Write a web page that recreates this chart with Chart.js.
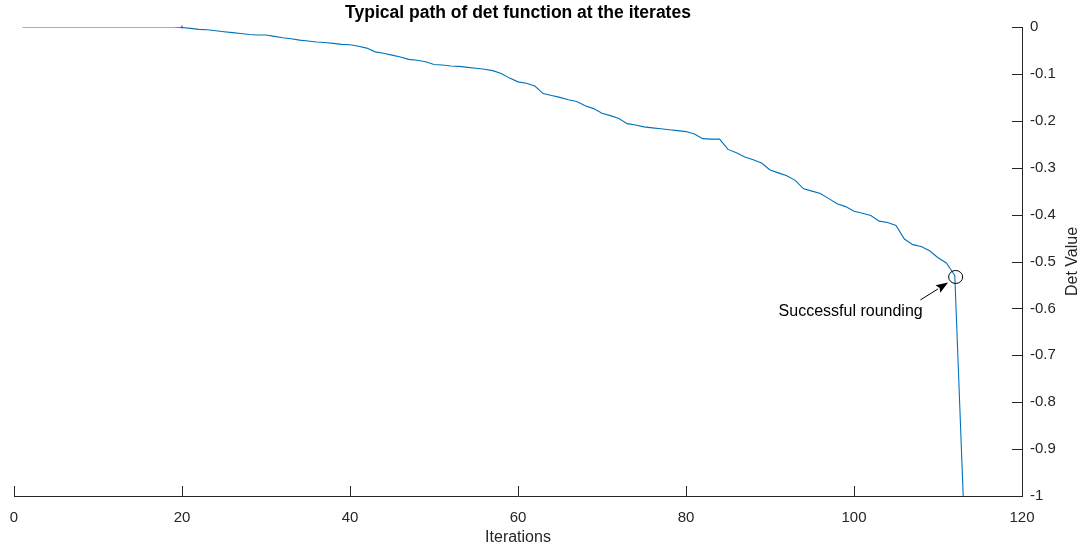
<!DOCTYPE html>
<html>
<head>
<meta charset="utf-8">
<title>Typical path of det function</title>
<script src="https://cdn.jsdelivr.net/npm/chart.js@4.4.1/dist/chart.umd.min.js"></script>
<style>
  html, body { margin: 0; padding: 0; background: #fff; }
  #wrap { width: 1085px; height: 549px; }
</style>
</head>
<body>
<div id="wrap"><canvas id="detChart"></canvas></div>
<script>
// iteration index and det value at each iterate
const iterations = [
  1, 2, 3, 4, 5, 6, 7, 8, 9, 10, 11, 12, 13, 14, 15, 16, 17, 18, 19, 20,
  21, 22, 23, 24, 25, 26, 27, 28, 29, 30, 31, 32, 33, 34, 35, 36, 37, 38, 39, 40,
  41, 42, 43, 44, 45, 46, 47, 48, 49, 50, 51, 52, 53, 54, 55, 56, 57, 58, 59, 60,
  61, 62, 63, 64, 65, 66, 67, 68, 69, 70, 71, 72, 73, 74, 75, 76, 77, 78, 79, 80,
  81, 82, 83, 84, 85, 86, 87, 88, 89, 90, 91, 92, 93, 94, 95, 96, 97, 98, 99, 100,
  101, 102, 103, 104, 105, 106, 107, 108, 109, 110, 111, 112, 113
];
const detValues = [
  0, 0, 0, 0, 0, 0, 0, 0, 0, 0, 0, 0, 0, 0, 0, 0, 0, 0, 0, -0.001,
  -0.003, -0.005, -0.006, -0.008, -0.010, -0.012, -0.014, -0.016, -0.017, -0.017,
  -0.020, -0.023, -0.025, -0.028, -0.030, -0.032, -0.033, -0.035, -0.037, -0.038,
  -0.041, -0.045, -0.053, -0.056, -0.060, -0.064, -0.069, -0.071, -0.074, -0.080,
  -0.081, -0.083, -0.084, -0.086, -0.088, -0.090, -0.093, -0.099, -0.109, -0.117,
  -0.120, -0.126, -0.142, -0.146, -0.150, -0.155, -0.159, -0.168, -0.174, -0.184,
  -0.189, -0.195, -0.206, -0.209, -0.213, -0.215, -0.217, -0.219, -0.221, -0.223,
  -0.228, -0.238, -0.239, -0.239, -0.261, -0.268, -0.277, -0.283, -0.290, -0.305,
  -0.311, -0.317, -0.327, -0.345, -0.350, -0.355, -0.366, -0.377, -0.383, -0.393,
  -0.397, -0.402, -0.414, -0.417, -0.423, -0.452, -0.464, -0.468, -0.477, -0.492,
  -0.503, -0.530, -1
];
// tiny stray mark just above the line
const markX = [20];
const markY = [0];

const xTicks = [0, 20, 40, 60, 80, 100, 120];
const yTicks = [0, -0.1, -0.2, -0.3, -0.4, -0.5, -0.6, -0.7, -0.8, -0.9, -1];

const chartTitle = 'Typical path of det function at the iterates';
const xTitle = 'Iterations';
const yTitle = 'Det Value';
const noteText = 'Successful rounding';
// annotation anchors, in data units
const circled = { x: 112.1, y: -0.533 };
const arrowTail = { x: 107.9, y: -0.582 };
const arrowHead = { x: 111.2, y: -0.545 };
const noteAt = { x: 99.6, y: -0.606 };

const FONT = "'Liberation Sans', Arial, Helvetica, sans-serif";
const axisColor = '#262626';
const lineColor = '#0072BD';

const pts = iterations.map((it, i) => ({ x: it, y: detValues[i] }));
const markPts = markX.map((v, i) => ({ x: v, y: markY[i] }));

// MATLAB-style ticks pointing into the plot
const inwardTicks = {
  id: 'inwardTicks',
  afterDraw(chart) {
    const { ctx, chartArea, scales: { x, y } } = chart;
    ctx.save();
    ctx.strokeStyle = axisColor;
    ctx.lineWidth = 1;
    ctx.beginPath();
    xTicks.forEach(v => {
      const px = Math.round(x.getPixelForValue(v)) + 0.5;
      ctx.moveTo(px, chartArea.bottom);
      ctx.lineTo(px, chartArea.bottom - 10);
    });
    yTicks.forEach(v => {
      const py = Math.round(y.getPixelForValue(v)) + 0.5;
      ctx.moveTo(chartArea.right, py);
      ctx.lineTo(chartArea.right - 10, py);
    });
    ctx.stroke();
    ctx.restore();
  }
};

// title, y-axis label (reads upward) and circle/arrow/text annotation
const notes = {
  id: 'notes',
  afterDraw(chart) {
    const { ctx, chartArea, scales: { x, y } } = chart;
    ctx.save();
    ctx.fillStyle = '#000';
    ctx.font = 'bold 17.5px ' + FONT;
    ctx.textAlign = 'center';
    ctx.textBaseline = 'middle';
    ctx.fillText(chartTitle, (chartArea.left + chartArea.right) / 2, 13);

    ctx.save();
    ctx.fillStyle = axisColor;
    ctx.font = '16px ' + FONT;
    ctx.translate(1073, (chartArea.top + chartArea.bottom) / 2);
    ctx.rotate(-Math.PI / 2);
    ctx.fillText(yTitle, 0, 0);
    ctx.restore();

    const cx = x.getPixelForValue(circled.x), cy = y.getPixelForValue(circled.y);
    ctx.strokeStyle = '#000';
    ctx.lineWidth = 1;
    ctx.beginPath();
    ctx.ellipse(cx, cy, 7, 6.5, 0, 0, Math.PI * 2);
    ctx.stroke();

    const tx = x.getPixelForValue(arrowTail.x), ty = y.getPixelForValue(arrowTail.y);
    const hx = x.getPixelForValue(arrowHead.x), hy = y.getPixelForValue(arrowHead.y);
    const ang = Math.atan2(hy - ty, hx - tx);
    const len = 12, half = 4.5;
    const bx = hx - len * Math.cos(ang), by = hy - len * Math.sin(ang);
    ctx.beginPath();
    ctx.moveTo(tx, ty);
    ctx.lineTo(bx, by);
    ctx.stroke();
    ctx.fillStyle = '#000';
    ctx.beginPath();
    ctx.moveTo(hx, hy);
    ctx.lineTo(bx + half * Math.sin(ang), by - half * Math.cos(ang));
    ctx.lineTo(bx + 2 * Math.cos(ang), by + 2 * Math.sin(ang));
    ctx.lineTo(bx - half * Math.sin(ang), by + half * Math.cos(ang));
    ctx.closePath();
    ctx.fill();

    ctx.fillStyle = '#000';
    ctx.font = '16px ' + FONT;
    ctx.fillText(noteText, x.getPixelForValue(noteAt.x), y.getPixelForValue(noteAt.y));
    ctx.restore();
  }
};

new Chart(document.getElementById('detChart'), {
  type: 'scatter',
  data: {
    datasets: [{
      label: 'det',
      data: pts,
      showLine: true,
      borderColor: lineColor,
      backgroundColor: lineColor,
      borderWidth: 1.1,
      pointRadius: 0,
      tension: 0
    }, {
      label: 'mark',
      data: markPts,
      pointStyle: 'line',
      rotation: 90,
      pointRadius: 1.5,
      borderColor: '#1a1aff',
      borderWidth: 1,
      clip: false
    }]
  },
  options: {
    responsive: true,
    maintainAspectRatio: false,
    animation: false,
    layout: { padding: { top: 27, left: 14, right: 0, bottom: 0 } },
    plugins: {
      legend: { display: false },
      tooltip: { enabled: false }
    },
    scales: {
      x: {
        type: 'linear',
        position: 'bottom',
        min: 0,
        max: 120,
        afterBuildTicks: s => { s.ticks = xTicks.map(v => ({ value: v })); },
        afterFit: s => { s.height = 53; s.paddingLeft = 0; s.paddingRight = 0; },
        grid: { display: false, drawTicks: false },
        border: { display: true, color: axisColor, width: 1 },
        ticks: { padding: 13, color: axisColor, font: { family: FONT, size: 15 } },
        title: { display: true, text: xTitle, color: axisColor, font: { family: FONT, size: 16 }, padding: { top: 0, bottom: 2 } }
      },
      y: {
        type: 'linear',
        position: 'right',
        min: -1,
        max: 0,
        afterBuildTicks: s => { s.ticks = yTicks.map(v => ({ value: v })); },
        afterFit: s => { s.width = 63; },
        grid: { display: false, drawTicks: false },
        border: { display: true, color: axisColor, width: 1 },
        ticks: {
          padding: 8,
          color: axisColor,
          font: { family: FONT, size: 15 },
          callback: v => String(+v.toFixed(1))
        },
        title: { display: false }
      }
    }
  },
  plugins: [inwardTicks, notes]
});
</script>
</body>
</html>
